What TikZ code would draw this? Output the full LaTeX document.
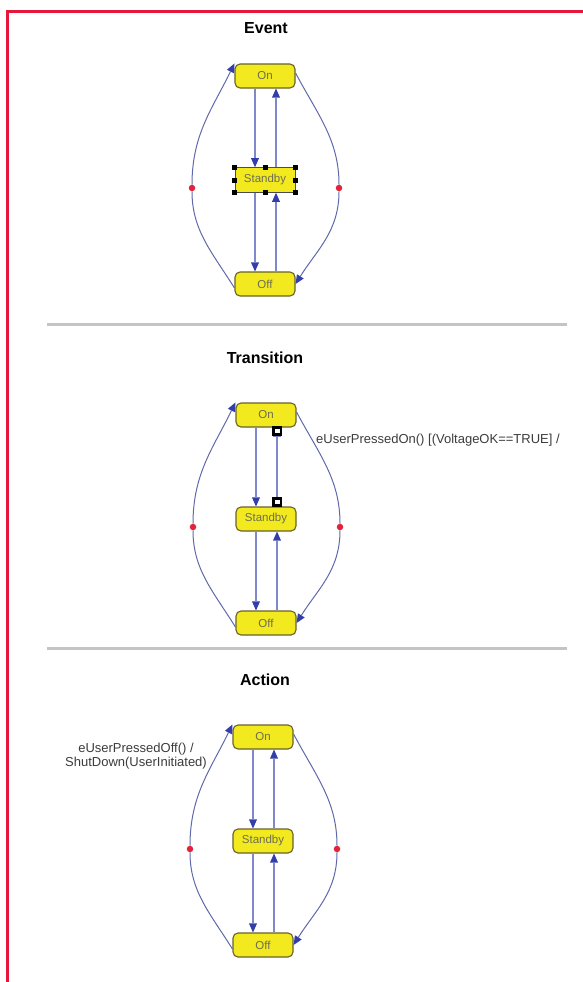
\documentclass[tikz,border=0pt]{standalone}
\usepackage{fontspec}
\setmainfont{Liberation Sans}
\usetikzlibrary{arrows.meta}

\definecolor{framered}{RGB}{228,24,58}
\definecolor{sepgray}{RGB}{196,196,196}
\definecolor{stfill}{RGB}{242,234,30}
\definecolor{stdraw}{RGB}{105,98,40}
\definecolor{sttext}{RGB}{110,110,80}
\definecolor{vline}{RGB}{128,136,204}
\definecolor{cline}{RGB}{96,106,170}
\definecolor{tipblue}{RGB}{50,62,170}
\definecolor{dotred}{RGB}{226,36,58}
\definecolor{labtext}{RGB}{60,60,60}

\tikzset{
  state/.style={draw=stdraw, line width=1.1pt, fill=stfill, rounded corners=5pt,
    minimum width=60pt, minimum height=24pt, inner sep=0pt, text=sttext,
    font=\fontsize{11.5}{13}\selectfont},
  selstate/.style={state, rounded corners=0pt, line width=0.6pt, draw=black!70,
    minimum height=25pt},
  handle/.style={fill=black, minimum size=5pt, inner sep=0pt},
  reddot/.style={circle, fill=dotred, minimum size=6.5pt, inner sep=0pt},
  trans/.style={line width=1.7pt, draw=vline,
    -{Triangle[length=9pt,width=8pt,color=tipblue,line width=0pt]}},
  outer/.style={line width=1pt, draw=cline,
    -{Triangle[length=9pt,width=8pt,color=tipblue,line width=0pt]}},
  title/.style={font=\bfseries\fontsize{16}{19}\selectfont},
  guard/.style={text=labtext, font=\fontsize{13}{14}\selectfont, inner sep=0pt},
  icon/.style={fill=black, minimum size=10pt, inner sep=0pt},
  iconmark/.style={fill=white, minimum width=5pt, minimum height=4pt, inner sep=0pt},
}

% One state machine: On, Standby, Off with their transitions
\newcommand\machine[1]{%
  \node[state] (on) at (0,0) {On};
  \node[#1] (sb) at (0,-104) {Standby};
  \node[state] (off) at (0,-208) {Off};
  \node[reddot] (dl) at (-73,-112) {};
  \node[reddot] (dr) at (74,-112) {};
  \draw[trans] ([xshift=-10pt]on.south) -- ([xshift=-10pt]sb.north);
  \draw[trans] ([xshift=11pt]sb.north) -- ([xshift=11pt]on.south);
  \draw[trans] ([xshift=-10pt]sb.south) -- ([xshift=-10pt]off.north);
  \draw[trans] ([xshift=11pt]off.north) -- ([xshift=11pt]sb.south);
  \draw[outer] ([yshift=-4pt]off.west) to[out=122,in=-90] (dl)
               to[out=90,in=-116] (on.north west);
  \draw[outer] ([yshift=3pt]on.east) to[out=-62,in=90] (dr)
               to[out=-90,in=58] (off.east);
}

\begin{document}
\begin{tikzpicture}[x=1pt,y=1pt]
  \useasboundingbox (0,0) rectangle (583,-982);
  \fill[white] (0,0) rectangle (583,-982);

  % page frame
  \draw[framered, line width=3pt] (6,-12) -- (583,-12);
  \draw[framered, line width=3pt] (7,-10.5) -- (7,-982);

  % separators
  \draw[sepgray, line width=3pt] (47,-324) -- (567,-324);
  \draw[sepgray, line width=3pt] (47,-648) -- (567,-648);

  % titles
  \node[title] (t1) at (266,-28) {Event};
  \node[title] (t2) at (265,-358) {Transition};
  \node[title] (t3) at (265,-680) {Action};

  % Event
  \begin{scope}[shift={(265,-76)}, name prefix=ev-]
    \machine{selstate}
    \foreach \a [count=\i] in {north west,north,north east,east,south east,south,south west,west}
      \node[handle] (hd\i) at (sb.\a) {};
  \end{scope}

  % Transition
  \begin{scope}[shift={(266,-415)}, name prefix=tr-]
    \machine{state}
    \node[icon] (g1) at ([xshift=11pt,yshift=-3pt]on.south) {};
    \node[iconmark] (g1m) at (g1) {};
    \node[icon] (g2) at ([xshift=11pt,yshift=4pt]sb.north) {};
    \node[iconmark] (g2m) at (g2) {};
    \node[guard, anchor=west] (lab) at (50,-25) {eUserPressedOn() [(VoltageOK==TRUE] /};
  \end{scope}

  % Action
  \begin{scope}[shift={(263,-737)}, name prefix=ac-]
    \machine{state}
    \node[guard, align=center] (lab) at (-127,-19) {eUserPressedOff() /\\ShutDown(UserInitiated)};
  \end{scope}
\end{tikzpicture}
\end{document}
